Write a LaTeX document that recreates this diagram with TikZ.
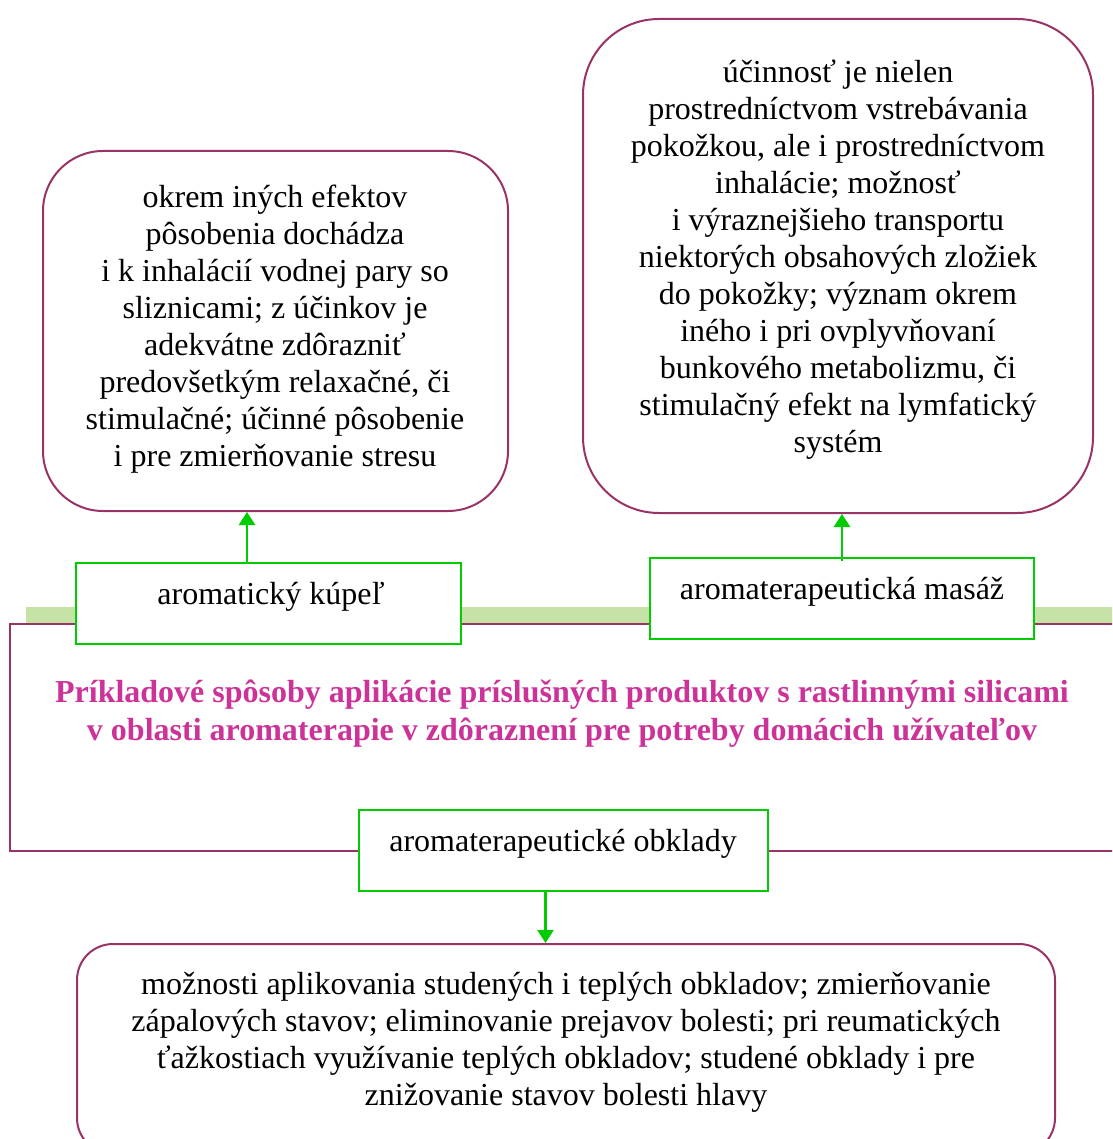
\documentclass[tikz,border=0pt]{standalone}
\usepackage{fontspec}
\setmainfont{Liberation Serif}
\usetikzlibrary{arrows.meta,calc}
\definecolor{frame}{HTML}{993366}
\definecolor{boxgreen}{HTML}{00CC00}
\definecolor{barfill}{HTML}{C6E2A6}
\definecolor{titlepink}{HTML}{CC3399}
\tikzset{
  infobox/.style={draw=frame, line width=2pt, fill=white, inner sep=0pt},
  methodbox/.style={draw=boxgreen, line width=2.5pt, fill=white, inner sep=0pt},
  boxtext/.style={align=center, inner sep=0pt, font=\fontsize{32}{37}\selectfont},
  titletext/.style={align=center, inner sep=0pt, text=titlepink, font=\fontsize{32}{38}\selectfont\bfseries},
  arr/.style={draw=boxgreen, line width=2.5pt, -{Triangle[width=16pt,length=13pt]}},
}
\begin{document}
\begin{tikzpicture}[x=1pt,y=-1pt]
\useasboundingbox (0,0) rectangle (1112,1139);
\begin{scope}
\clip (0,0) rectangle (1112,1139);
% background band and frame of the central panel
\fill[barfill] (26,607) rectangle (1125,624);
\draw[frame, line width=2.5pt] (1125,624) -- (10,624) -- (10,851) -- (1125,851);

% description boxes
\node[infobox, rounded corners=60pt, minimum width=465pt, minimum height=360pt] (bathinfo) at (275.5,331) {};
\node[infobox, rounded corners=76pt, minimum width=510pt, minimum height=494pt] (massageinfo) at (838,266) {};
\node[infobox, rounded corners=36pt, minimum width=978pt, minimum height=210pt] (packinfo) at (566,1049) {};

% application methods
\node[methodbox, minimum width=385pt, minimum height=81pt] (bath) at (268.5,603.5) {};
\node[methodbox, minimum width=384pt, minimum height=81pt] (massage) at (842,598.5) {};
\node[methodbox, minimum width=409pt, minimum height=81pt] (pack) at (563.5,850.5) {};
\end{scope}

\node[boxtext] (bathlabel) at (271,597) {aromatický kúpeľ};
\node[boxtext] (massagelabel) at (842,592) {aromaterapeutická masáž};
\node[boxtext] (packlabel) at (563,844) {aromaterapeutické obklady};

\node[boxtext] (bathtext) at (275,329.5) {okrem iných efektov\\pôsobenia dochádza\\i k inhalácií vodnej pary so\\sliznicami; z účinkov je\\adekvátne zdôrazniť\\predovšetkým relaxačné, či\\stimulačné; účinné pôsobenie\\i pre zmierňovanie stresu};
\node[boxtext] (massagetext) at (838,259.5) {účinnosť je nielen\\prostredníctvom vstrebávania\\pokožkou, ale i prostredníctvom\\inhalácie; možnosť\\i výraznejšieho transportu\\niektorých obsahových zložiek\\do pokožky; význam okrem\\iného i pri ovplyvňovaní\\bunkového metabolizmu, či\\stimulačný efekt na lymfatický\\systém};
\node[boxtext] (packtext) at (566,1042) {možnosti aplikovania studených i teplých obkladov; zmierňovanie\\zápalových stavov; eliminovanie prejavov bolesti; pri reumatických\\ťažkostiach využívanie teplých obkladov; studené obklady i pre\\znižovanie stavov bolesti hlavy};

\node[titletext] (title) at (562,714) {Príkladové spôsoby aplikácie príslušných produktov s rastlinnými silicami\\v oblasti aromaterapie v zdôraznení pre potreby domácich užívateľov};

% connectors
\draw[arr] ([xshift=-21.5pt]bath.north) -- ([xshift=-21.5pt]bath.north |- bathinfo.south);
\draw[arr] ([yshift=-4pt]massage.north) -- (massage.north |- massageinfo.south);
\draw[arr] ([xshift=-18pt]pack.south) -- ([xshift=-18pt]pack.south |- packinfo.north);
\end{tikzpicture}
\end{document}
